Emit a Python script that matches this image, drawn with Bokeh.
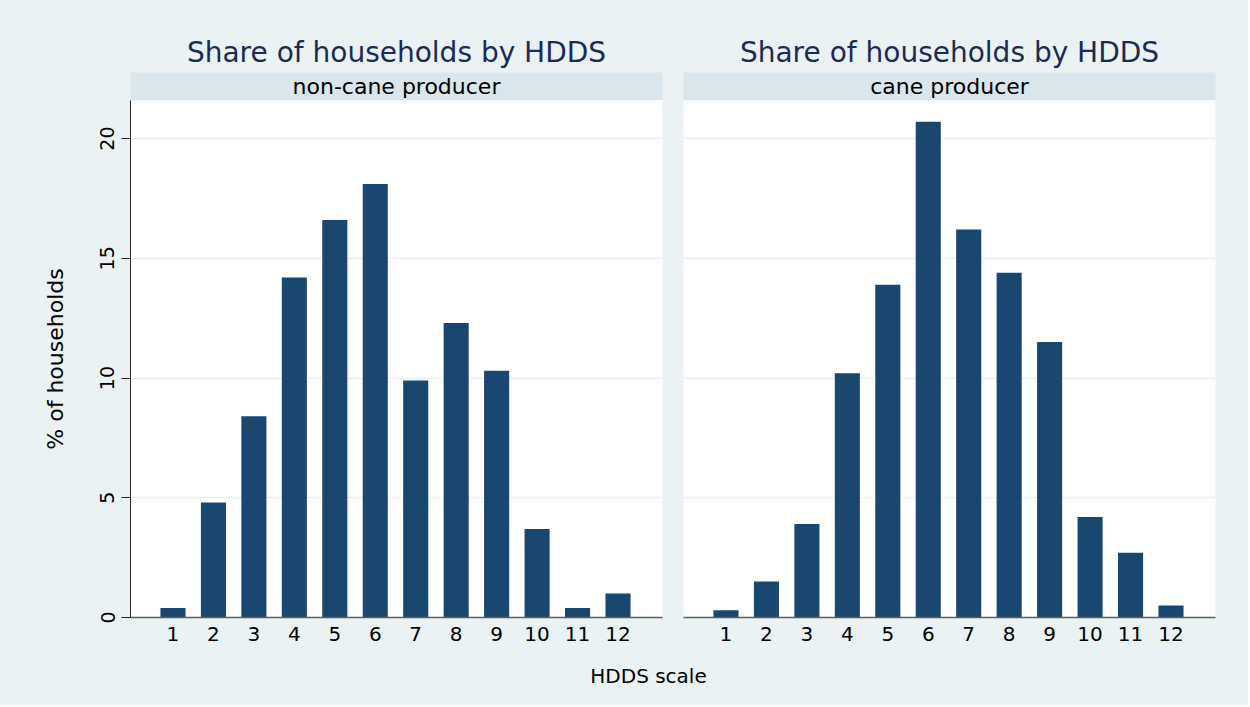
from bokeh.plotting import figure
from bokeh.layouts import row, column
from bokeh.models import Range1d, FixedTicker, Label
from bokeh.embed import file_html
from bokeh.resources import INLINE

# ---- data ----
hdds = list(range(1, 13))
non_cane = [0.4, 4.8, 8.4, 14.2, 16.6, 18.1, 9.9, 12.3, 10.3, 3.7, 0.4, 1.0]
cane = [0.3, 1.5, 3.9, 10.2, 13.9, 20.7, 16.2, 14.4, 11.5, 4.2, 2.7, 0.5]
panel_title = "Share of households by HDDS"
strip_labels = ["non-cane producer", "cane producer"]
y_ticks = [0, 5, 10, 15, 20]
x_title = "HDDS scale"
y_title = "% of households"

BG = "#eaf2f3"
STRIP = "#d9e6eb"
BAR = "#1a476f"
TITLE_C = "#1c2b55"
FONT = "DejaVu Sans"

X_RANGE = (-0.05, 13.1)
Y_RANGE = (0, 21.59)


def strip_fig(label, width, bl, br):
    s = figure(width=width, height=100, x_range=Range1d(0, 1), y_range=Range1d(0, 1),
               output_backend="svg", toolbar_location=None,
               min_border_left=bl, min_border_right=br, min_border_top=72, min_border_bottom=0,
               x_axis_location=None, y_axis_location=None, title=panel_title)
    s.background_fill_color = STRIP
    s.border_fill_color = BG
    s.outline_line_color = None
    s.grid.visible = False
    s.title.text_font = FONT
    s.title.text_font_size = "28px"
    s.title.text_font_style = "normal"
    s.title.text_color = TITLE_C
    s.title.align = "center"
    s.title.standoff = 7
    s.add_layout(Label(x=0.5, y=0.5, text=label, text_align="center", text_baseline="middle",
                       text_font=FONT, text_font_size="22px", text_color="black"))
    return s


def main_fig(values, width, bl, br, show_y):
    p = figure(width=width, height=555, x_range=Range1d(*X_RANGE), y_range=Range1d(*Y_RANGE),
               output_backend="svg", toolbar_location=None,
               min_border_left=bl, min_border_right=br, min_border_top=0, min_border_bottom=38,
               y_axis_location="left" if show_y else None)
    p.vbar(x=hdds, top=values, width=0.62, color=BAR, line_color=None)
    p.background_fill_color = "white"
    p.border_fill_color = BG
    p.outline_line_color = None
    p.xgrid.visible = False
    p.ygrid.ticker = FixedTicker(ticks=y_ticks)
    p.ygrid.grid_line_color = "#e6eff1"
    p.ygrid.grid_line_width = 1.5

    xa = p.xaxis[0]
    xa.ticker = FixedTicker(ticks=hdds)
    xa.major_tick_out = 0
    xa.major_tick_in = 0
    xa.minor_tick_out = 0
    xa.minor_tick_in = 0
    xa.axis_line_color = "#5e5e5e"
    xa.axis_line_width = 1.5
    xa.major_label_text_font = FONT
    xa.major_label_text_font_size = "20px"
    xa.major_label_text_color = "black"
    xa.major_label_standoff = 9

    if show_y:
        ya = p.yaxis[0]
        ya.ticker = FixedTicker(ticks=y_ticks)
        ya.major_tick_out = 9
        ya.major_tick_in = 0
        ya.minor_tick_out = 0
        ya.minor_tick_in = 0
        ya.axis_line_color = "#222222"
        ya.major_tick_line_color = "#222222"
        ya.major_label_orientation = "vertical"
        ya.major_label_text_font = FONT
        ya.major_label_text_font_size = "19px"
        ya.major_label_text_color = "black"
        ya.major_label_standoff = 7
        ya.axis_label = y_title
        ya.axis_label_text_font = FONT
        ya.axis_label_text_font_size = "22px"
        ya.axis_label_text_font_style = "normal"
        ya.axis_label_text_color = "black"
        ya.axis_label_standoff = 30
    return p


LW, RW = 672, 576
s1 = strip_fig(strip_labels[0], LW, 130, 10)
p1 = main_fig(non_cane, LW, 130, 10, True)
s2 = strip_fig(strip_labels[1], RW, 11, 33)
p2 = main_fig(cane, RW, 11, 33, False)

TW = LW + RW
xt = figure(width=TW, height=50, x_range=Range1d(0, 1), y_range=Range1d(0, 1),
            output_backend="svg", toolbar_location=None,
            min_border_left=0, min_border_right=0, min_border_top=0, min_border_bottom=0,
            x_axis_location=None, y_axis_location=None)
xt.background_fill_color = BG
xt.border_fill_color = BG
xt.outline_line_color = None
xt.grid.visible = False
xt.add_layout(Label(x=648 / TW, y=0.6, text=x_title, text_align="center",
                    text_baseline="middle", text_font=FONT, text_font_size="20px",
                    text_color="black"))

bgs = {"background-color": BG}
layout = column(
    row(column(s1, p1, styles=bgs), column(s2, p2, styles=bgs), styles=bgs),
    xt,
    styles=bgs,
)

open("out.html", "w").write(file_html(layout, INLINE))
